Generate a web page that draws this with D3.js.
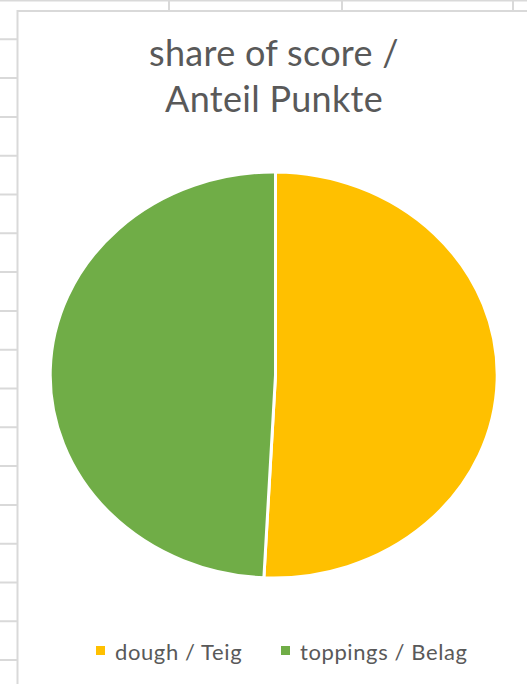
<!DOCTYPE html>
<html>
<head>
    <meta charset="utf-8">
    <title>share of score</title>
    <script src="https://d3js.org/d3.v7.min.js"></script>
    <style>
        body { margin: 0; background: #fff; }
        text { font-family: Lato, "Open Sans", sans-serif; fill: #595959; }
    </style>
</head>
<body>
    <div id="chart"></div>
    <script>
        // data
        var categories = ["dough / Teig", "toppings / Belag"];
        var values = [61, 59];
        var colors = ["#FFC000", "#70AD47"];
        var titleLines = ["share of score /", "Anteil Punkte"];

        var W = 527, H = 684;

        var svg = d3.select("#chart")
                    .append("svg")
                    .attr("width", W)
                    .attr("height", H);

        // spreadsheet grid behind the chart
        var grid = svg.append("g").attr("stroke", "#d9d9d9").attr("stroke-width", 2);
        for (var y = 0.5; y < H; y += 38.8) {
            grid.append("line").attr("x1", 0).attr("x2", W).attr("y1", y).attr("y2", y);
        }
        [169, 342, 513].forEach(function(x) {
            grid.append("line").attr("x1", x).attr("x2", x).attr("y1", 0).attr("y2", H);
        });

        // chart area
        svg.append("rect")
           .attr("x", 17.5).attr("y", 11)
           .attr("width", W + 20).attr("height", H + 20)
           .attr("fill", "#fff")
           .attr("stroke", "#d9d9d9")
           .attr("stroke-width", 2);

        // title
        svg.append("text")
           .attr("text-anchor", "middle")
           .attr("font-size", 36)
           .attr("letter-spacing", 0.3)
           .selectAll("tspan")
           .data(titleLines)
           .enter()
           .append("tspan")
           .attr("x", 274)
           .attr("y", function(d, i) { return 66 + i * 46; })
           .text(function(d) { return d; });

        // pie (elliptical, as in the original)
        var cx = 275.5, cy = 375, rx = 223.5, ry = 203;
        var pie = d3.pie().sort(null).value(function(d) { return d; });
        var arc = d3.arc().innerRadius(0).outerRadius(1);

        svg.append("g")
           .attr("transform", "translate(" + cx + "," + cy + ") scale(" + rx + "," + ry + ")")
           .selectAll("path")
           .data(pie(values))
           .enter()
           .append("path")
           .attr("d", arc)
           .attr("fill", function(d, i) { return colors[i]; })
           .attr("stroke", "#fff")
           .attr("stroke-width", 3)
           .attr("vector-effect", "non-scaling-stroke");

        // legend
        var legendX = [96, 281];
        var legend = svg.selectAll(".legend")
                        .data(categories)
                        .enter()
                        .append("g")
                        .attr("class", "legend")
                        .attr("transform", function(d, i) { return "translate(" + legendX[i] + ",646)"; });

        legend.append("rect")
              .attr("width", 9).attr("height", 9)
              .attr("fill", function(d, i) { return colors[i]; });

        legend.append("text")
              .attr("x", 19)
              .attr("y", 14)
              .attr("font-size", 22)
              .attr("letter-spacing", 0.6)
              .text(function(d) { return d; });
    </script>
</body>
</html>
